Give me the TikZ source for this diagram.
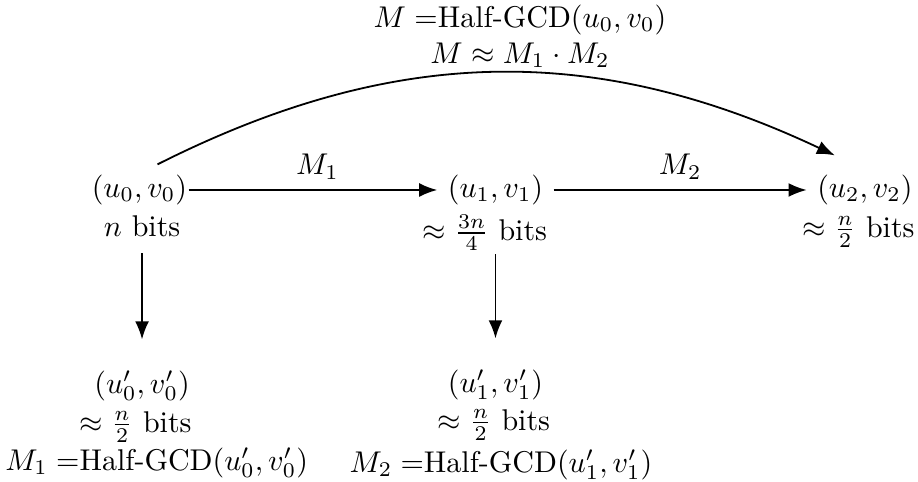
\documentclass[tikz,border=0pt]{standalone}
\usepackage{amsmath,amssymb}
\usepackage{tikz}
\usetikzlibrary{arrows.meta,positioning,calc}

\begin{document}
\begin{tikzpicture}[fleche/.style={-{Latex[length=6pt,width=4.6pt]},semithick},
                    texte/.style={inner sep=1pt}]
    \useasboundingbox (0,0) rectangle (10.755,-5.647);
    % ligne du haut
    \node (u0) at (1.634,-2.226) {$(u_0,v_0)$};
    \node (u1) at (5.805,-2.226) {$(u_1,v_1)$};
    \node (u2) at (10.133,-2.226) {$(u_2,v_2)$};
    \node[texte] (b0) at (1.664,-2.648) {$n$ bits};
    \node[texte] (b1) at (5.682,-2.730) {$\approx \frac{3n}{4}$ bits};
    \node[texte] (b2) at (10.057,-2.718) {$\approx \frac{n}{2}$ bits};
    % ligne du bas
    \node[texte] (p0) at (1.664,-4.522) {$(u'_0,v'_0)$};
    \node[texte] (q0) at (1.587,-5.002) {$\approx \frac{n}{2}$ bits};
    \node[texte] (h0) at (1.835,-5.424) {$M_1 =$Half-GCD$(u'_0,v'_0)$};
    \node[texte] (p1) at (5.805,-4.510) {$(u'_1,v'_1)$};
    \node[texte] (q1) at (5.787,-4.979) {$\approx \frac{n}{2}$ bits};
    \node[texte] (h1) at (5.870,-5.447) {$M_2 =$Half-GCD$(u'_1,v'_1)$};
    \node[align=center] (hg) at (6.092,-0.422) {$M =$Half-GCD$(u_0,v_0)$\\$M \approx M_1 \cdot M_2$};
    % fleches
    \draw[fleche,shorten <=-3pt] (u0) -- node[above] {$M_1$} (u1);
    \draw[fleche] (u1) -- node[above] {$M_2$} (u2);
    \draw[fleche] ([xshift=6pt]u0.north) to[bend left=26] ([xshift=-10pt,yshift=3pt]u2.north);
    \draw[fleche,shorten <=4.3pt,shorten >=9.3pt] (b0) -- (p0);
    \draw[fleche,shorten >=9.3pt] (b1.south -| p1) -- (p1.north);
\end{tikzpicture}
\end{document}
